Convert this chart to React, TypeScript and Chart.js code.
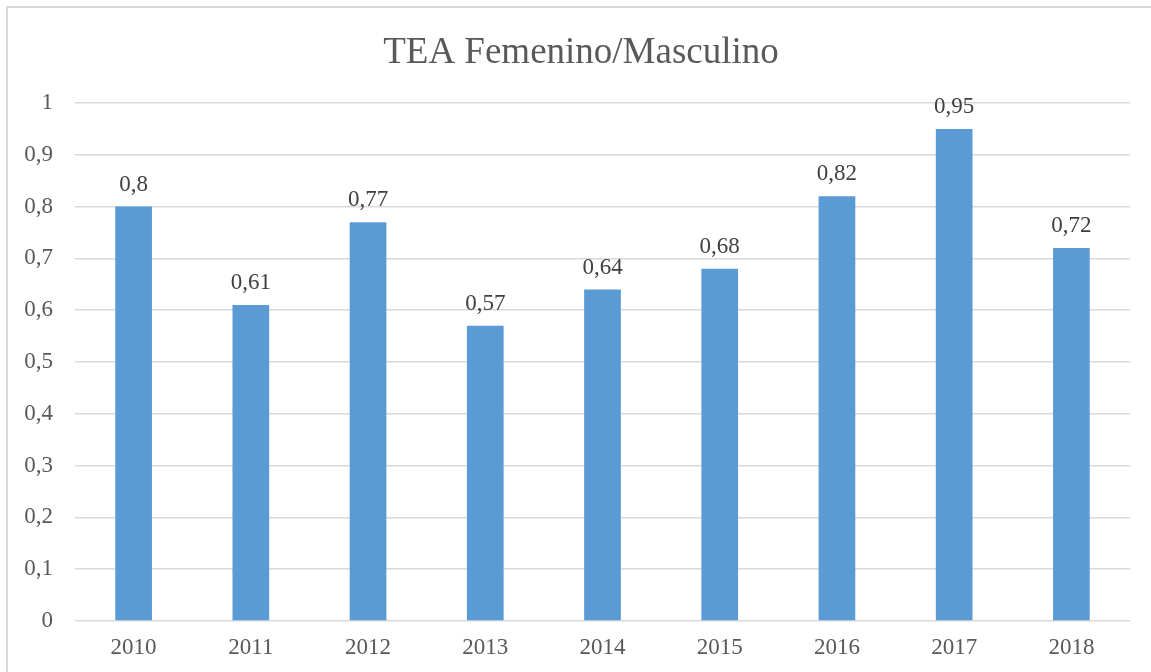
import React, { useEffect, useRef } from "react";
import { Chart, registerables } from "chart.js";

Chart.register(...registerables);

const TITLE = "TEA Femenino/Masculino";
const YEARS = ["2010", "2011", "2012", "2013", "2014", "2015", "2016", "2017", "2018"];
const RATIO = [0.8, 0.61, 0.77, 0.57, 0.64, 0.68, 0.82, 0.95, 0.72];
const Y_MIN = 0;
const Y_MAX = 1;
const Y_STEP = 0.1;

const FONT = "'Liberation Serif', 'Times New Roman', serif";
const fmt = (v: number) => String(Math.round(v * 100) / 100).replace(".", ",");

const frame = {
  id: "frame",
  beforeDraw(chart: any) {
    const ctx = chart.ctx;
    ctx.save();
    ctx.fillStyle = "#ffffff";
    ctx.fillRect(0, 0, chart.width, chart.height);
    ctx.strokeStyle = "#d9d9d9";
    ctx.lineWidth = 2;
    ctx.beginPath();
    ctx.moveTo(7, chart.height + 5);
    ctx.lineTo(7, 7);
    ctx.lineTo(chart.width + 5, 7);
    ctx.stroke();
    ctx.fillStyle = "#595959";
    ctx.font = `37px ${FONT}`;
    ctx.textAlign = "center";
    ctx.textBaseline = "alphabetic";
    ctx.fillText(TITLE, 581, 63);
    ctx.restore();
  },
};

const valueLabels = {
  id: "valueLabels",
  afterDatasetsDraw(chart: any) {
    const ctx = chart.ctx;
    const meta = chart.getDatasetMeta(0);
    ctx.save();
    ctx.font = `23px ${FONT}`;
    ctx.fillStyle = "#404040";
    ctx.textAlign = "center";
    ctx.textBaseline = "middle";
    meta.data.forEach((bar: any, i: number) => {
      ctx.fillText(fmt(RATIO[i]), bar.x, bar.y - 22);
    });
    ctx.restore();
  },
};

export default function App() {
  const ref = useRef<HTMLCanvasElement | null>(null);
  useEffect(() => {
    if (!ref.current) return;
    const chart = new Chart(ref.current, {
      type: "bar",
      data: {
        labels: YEARS,
        datasets: [
          {
            data: RATIO,
            backgroundColor: "#5B9BD5",
            borderWidth: 0,
            barPercentage: 0.313,
            categoryPercentage: 1,
          },
        ],
      },
      options: {
        responsive: false,
        animation: false,
        layout: { padding: { left: 0, right: 21, top: 103, bottom: 0 } },
        plugins: {
          legend: { display: false },
          tooltip: { enabled: false },
          title: { display: false },
        },
        scales: {
          x: {
            grid: { display: false, drawTicks: false },
            border: { display: false },
            ticks: {
              color: "#595959",
              font: { family: FONT, size: 23 },
              padding: 13,
            },
            afterFit: (s: any) => {
              s.height = 51;
            },
          },
          y: {
            min: Y_MIN,
            max: Y_MAX,
            grid: { color: "#d9d9d9", lineWidth: 1.5, drawTicks: false },
            border: { display: false },
            ticks: {
              stepSize: Y_STEP,
              color: "#595959",
              font: { family: FONT, size: 23 },
              padding: 22,
              callback: (v: any) => fmt(Number(v)),
            },
            afterFit: (s: any) => {
              s.width = 75;
            },
          },
        },
      },
      plugins: [frame, valueLabels],
    });
    return () => chart.destroy();
  }, []);
  return (
    <div style={{ position: "absolute", left: 0, top: 0, width: 1151, height: 672 }}>
      <canvas ref={ref} width={1151} height={672} />
    </div>
  );
}
